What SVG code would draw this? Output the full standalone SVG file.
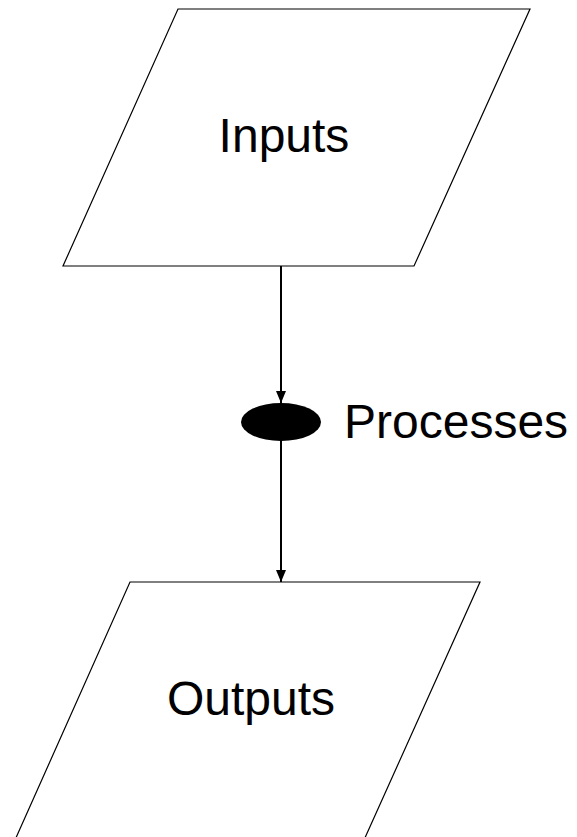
<svg xmlns="http://www.w3.org/2000/svg" width="577" height="837" viewBox="0 0 577 837">
<style>
.shape{fill:#fff;stroke:#000;stroke-width:1.2}
.lbl{font-family:"Liberation Sans",Arial,sans-serif;font-size:48px;fill:#000}
.conn{stroke:#000;stroke-width:2;fill:none}
</style>
<defs>
<marker id="arr" viewBox="0 0 12 10" refX="12" refY="5" markerWidth="12" markerHeight="10" markerUnits="userSpaceOnUse" orient="auto">
<path d="M0,0 L12,5 L0,10 Z" fill="#000"/>
</marker>
</defs>
<rect width="577" height="837" fill="#fff"/>
<g id="connectors">
<line class="conn" x1="281" y1="266" x2="281" y2="403" marker-end="url(#arr)"/>
<line class="conn" x1="281" y1="441" x2="281" y2="582" marker-end="url(#arr)"/>
</g>
<g id="inputs">
<polygon class="shape" points="178,9 530,9 414,266 63,266"/>
<text class="lbl" x="284" y="152" text-anchor="middle">Inputs</text>
</g>
<g id="processes">
<ellipse cx="281" cy="422" rx="40" ry="19" fill="#000"/>
<text class="lbl" x="344" y="438">Processes</text>
</g>
<g id="outputs">
<polygon class="shape" points="130,582 480,582 364,840 15,840"/>
<text class="lbl" x="251" y="715" text-anchor="middle">Outputs</text>
</g>
</svg>
